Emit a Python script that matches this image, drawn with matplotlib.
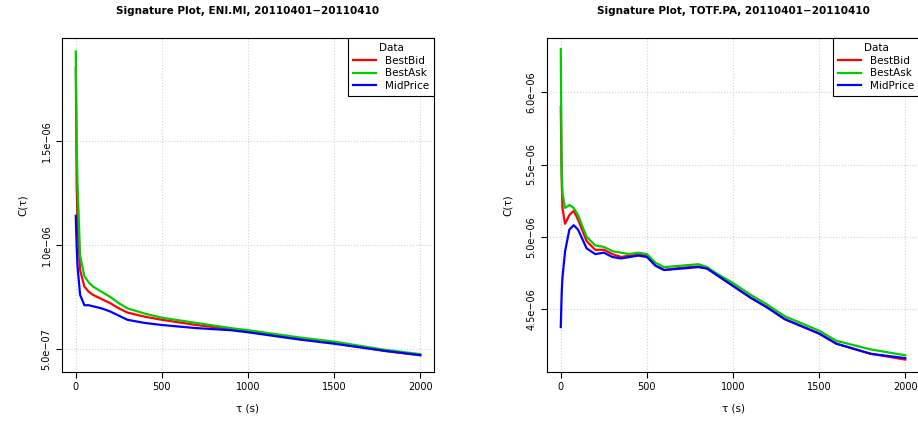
import numpy as np
import matplotlib
matplotlib.use("Agg")
import matplotlib.pyplot as plt

# ENI.MI
eni_tau = [0, 5, 10, 25, 50, 75, 100, 150, 200, 250, 300, 400, 500, 700, 900, 1000, 1300, 1500, 1800, 2000]
eni_bid = [1.85, 1.3, 1.1, 0.88, 0.80, 0.775, 0.76, 0.74, 0.72, 0.695, 0.675, 0.655, 0.64, 0.615, 0.595,
           0.585, 0.55, 0.53, 0.49, 0.47]
eni_ask = [1.93, 1.5, 1.3, 0.95, 0.85, 0.82, 0.80, 0.775, 0.75, 0.72, 0.695, 0.67, 0.65, 0.625, 0.6,
           0.59, 0.555, 0.535, 0.495, 0.475]
eni_mid = [1.14, 1.0, 0.9, 0.76, 0.71, 0.71, 0.705, 0.695, 0.68, 0.66, 0.64, 0.625, 0.615, 0.6, 0.59,
           0.58, 0.545, 0.525, 0.49, 0.47]

# TOTF.PA
tot_tau = [0, 5, 10, 25, 50, 75, 100, 150, 200, 250, 300, 350, 400, 450, 500, 550, 600, 700, 800, 850,
           900, 1000, 1100, 1200, 1300, 1500, 1600, 1800, 2000]
tot_bid = [5.9, 5.4, 5.2, 5.09, 5.15, 5.18, 5.12, 4.97, 4.91, 4.91, 4.88, 4.86, 4.87, 4.875, 4.87, 4.8, 4.77,
           4.785, 4.795, 4.78, 4.74, 4.66, 4.58, 4.51, 4.43, 4.33, 4.26, 4.19, 4.15]
tot_ask = [6.3, 5.5, 5.3, 5.2, 5.22, 5.2, 5.15, 5.0, 4.94, 4.93, 4.9, 4.89, 4.88, 4.89, 4.88, 4.82, 4.79,
           4.8, 4.81, 4.79, 4.75, 4.68, 4.6, 4.53, 4.45, 4.35, 4.28, 4.22, 4.18]
tot_mid = [4.375, 4.6, 4.72, 4.9, 5.05, 5.08, 5.05, 4.92, 4.88, 4.89, 4.86, 4.85, 4.86, 4.87, 4.86, 4.8, 4.77,
           4.78, 4.79, 4.78, 4.74, 4.66, 4.58, 4.51, 4.43, 4.33, 4.26, 4.19, 4.16]

labels = ["BestBid", "BestAsk", "MidPrice"]
colors = ["#ff0000", "#00cd00", "#0000ff"]

fig = plt.figure(figsize=(9.18, 4.26), dpi=100)
panels = [
    ([62 / 918, 54 / 426, 372 / 918, 334 / 426], "Signature Plot, ENI.MI, 20110401\u221220110410", eni_tau,
     [eni_bid, eni_ask, eni_mid], (3.89e-7, 1.995e-6), [5e-7, 1e-6, 1.5e-6],
     ["5.0e\u221207", "1.0e\u221206", "1.5e\u221206"]),
    ([547 / 918, 54 / 426, 372 / 918, 334 / 426], "Signature Plot, TOTF.PA, 20110401\u221220110410", tot_tau,
     [tot_bid, tot_ask, tot_mid], (4.064e-6, 6.376e-6), [4.5e-6, 5e-6, 5.5e-6, 6e-6],
     ["4.5e\u221206", "5.0e\u221206", "5.5e\u221206", "6.0e\u221206"]),
]
for rect, title, tau, series, ylim, yt, ytl in panels:
    ax = fig.add_axes(rect)
    for s, lab, c in zip(series, labels, colors):
        ax.plot(tau, np.array(s) * 1e-6, color=c, lw=1.6, label=lab)
    ax.set_xlim(-80, 2080)
    ax.set_ylim(*ylim)
    ax.set_xticks([0, 500, 1000, 1500, 2000])
    ax.set_yticks(yt)
    ax.set_yticklabels(ytl, rotation=90, va="center")
    ax.tick_params(labelsize=7, length=4)
    ax.grid(True, color="#c8d0e0", linestyle=":", lw=0.8)
    ax.set_title(title, fontsize=7.5, fontweight="bold", pad=17)
    ax.set_xlabel("\u03c4 (s)", fontsize=7.5, labelpad=8)
    ax.set_ylabel("C(\u03c4)", fontsize=7.5, labelpad=10)
    leg = ax.legend(title="Data", loc="upper right", fontsize=7.5, title_fontsize=7.5,
                    fancybox=False, edgecolor="black", framealpha=1, borderaxespad=0,
                    handlelength=2.2, labelspacing=0.25, borderpad=0.5)
    leg.get_frame().set_linewidth(0.8)

fig.savefig("out.png", dpi=100)
